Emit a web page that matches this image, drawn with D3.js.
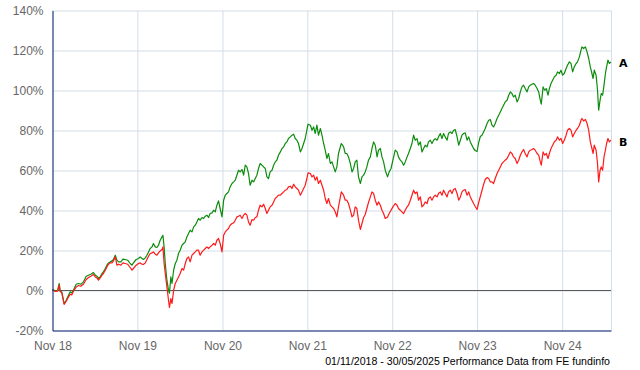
<!DOCTYPE html>
<html>
<head>
<meta charset="utf-8">
<script src="https://cdn.jsdelivr.net/npm/d3@7"></script>
<style>
    body { margin: 0; background: #fff; }
    .axis-label { font-family: "Liberation Sans", Arial, sans-serif; font-size: 12px; fill: #666; }
    .series-label { font-family: "DejaVu Sans", Verdana, sans-serif; font-size: 11px; font-weight: bold; fill: #000; }
    .footer { font-family: "Liberation Sans", Arial, sans-serif; font-size: 10.6px; fill: #000; }
</style>
</head>
<body>
<div id="chart"></div>
<script>

// data: days since 01/11/2018, cumulative % growth
var startDate = new Date(2018, 10, 1);
var endDate = new Date(2025, 4, 30);

var dayOffsets = [0, 2, 12, 22, 29, 33, 40, 50, 59, 69, 76, 83, 90, 102, 112, 122, 133, 145, 155, 165,
    176, 184, 191, 198, 205, 213, 219, 227, 234, 241, 248, 256, 262, 270, 277, 284, 294, 303, 313, 323,
    334, 342, 348, 360, 370, 377, 385, 391, 399, 406, 413, 420, 428, 434, 442, 449, 456, 463, 471,
    475, 480, 485, 492, 499, 503, 509, 514, 521, 528, 535, 542, 549, 557, 564, 571, 578, 585, 592, 600,
    607, 614, 621, 628, 635, 643, 650, 657, 664, 671, 678, 686, 693, 700, 707, 714, 721, 729, 736, 743,
    750, 757, 764, 772, 779, 786, 793, 800, 807, 815, 822, 829, 836, 843, 850, 858, 865, 872, 879, 886,
    893, 901, 908,
    915, 922, 929, 936, 944, 951, 958, 965, 972, 980, 987, 994, 1001, 1008, 1015, 1023, 1030, 1037, 1044,
    1051, 1058, 1066, 1073, 1080, 1087, 1094, 1099, 1109, 1116, 1123, 1130, 1137, 1144, 1152, 1159, 1166,
    1173, 1180, 1187, 1195, 1202, 1209, 1216, 1223, 1230, 1242, 1252, 1259, 1266, 1273, 1281, 1288, 1295,
    1302, 1309, 1316, 1324, 1331, 1338, 1345, 1352, 1359,
    1367, 1374, 1381, 1388, 1396, 1402, 1410, 1417, 1424, 1431, 1441, 1448, 1456, 1464, 1474, 1482, 1488,
    1496, 1503, 1510, 1517, 1525, 1531, 1539, 1546, 1553, 1560, 1568, 1574, 1582, 1589, 1596, 1603, 1611,
    1617, 1625, 1632, 1639, 1646, 1654, 1660, 1668, 1675, 1682, 1689, 1697, 1703, 1711, 1718, 1725, 1732,
    1740, 1747, 1754, 1761, 1768, 1775, 1783, 1790, 1797, 1804, 1811,
    1818, 1826, 1833, 1840, 1847, 1854, 1861, 1869, 1876, 1883, 1890, 1897, 1904, 1912, 1919, 1926, 1933,
    1940, 1947, 1955, 1962, 1969, 1976, 1983, 1990, 1998, 2005, 2012, 2019, 2026, 2033, 2041, 2048, 2055,
    2062, 2069, 2076, 2084, 2091, 2098, 2102, 2110, 2117, 2124, 2131, 2137, 2144, 2151, 2158, 2166, 2172,
    2180, 2187, 2194, 2201, 2209, 2215, 2223, 2230, 2237, 2244, 2252, 2258, 2266, 2273, 2277, 2284, 2292,
    2299, 2306, 2313, 2320, 2325, 2330, 2338, 2344, 2349, 2355, 2360, 2366, 2372, 2378, 2383, 2389, 2395, 2401];

var seriesA = [0, 0.5, -0.2, 0.15, 3.5, -0.2, -0.7, -6.5, -4.85, -2.35, -0.65, -1.2, 0.15, 3.15, 3.5, 3.15, 4.3, 7.15, 7.65, 8.15,
    9, 7.65, 7.15, 6, 6.8, 8.5, 9.3, 11, 12.65, 13.8, 14.3, 14.8, 15.5, 17.65, 15.15, 14.3, 14.3, 15.65, 15.5, 15.15,
    13.5, 12.65, 13.8, 15.5, 16, 16.8, 16, 15.5, 16.3, 17.65, 19.3, 21, 21.8, 23.5, 21.8, 21.5, 22.65, 25.15, 26.8,
    27.6, 21.8, 13.5, 5.15, 0.15, -1.35, 6.8, 3.5, 10.15, 13.5, 15.15, 18.5, 20.15, 22.65, 23.5, 24.3, 26.8, 28.5, 30.15, 29.3,
    31.8, 32.65, 34.3, 36, 35.15, 36.5, 36, 37.15, 37.65, 36.5, 38.5, 38.8, 40.15, 39.3, 42.65, 44.8, 41, 36.8, 45.15, 47.65,
    48.5, 49.3, 51.8, 53.5, 54.3, 55.15, 57.65, 60.15, 59.3, 60.5, 57.65, 62.65, 61.8, 58.5, 52.65, 55.15, 54.3, 56, 57.65, 61,
    63.5, 62.65, 61.8,
    61, 56.8, 56, 59.3, 60.15, 62.65, 64.3, 65.15, 67.65, 69.3, 71, 71.8, 73.5, 74.3, 76, 76.8, 77.65, 78.15, 76,
    75.15, 73.5, 69.3, 71, 73.5, 76, 80.15, 83.15, 82.65, 80.15, 81.8, 78.5, 82.65, 77.65, 81, 77.65, 73.5,
    70.15, 66, 68.5, 63.5, 64.3, 61.8, 59.3, 61.8, 68.5, 73.5, 71.8, 68.5, 68.5, 66.8, 63.5, 59.3, 61,
    64.3, 65.15, 56.8, 53.5, 56.8, 57.65, 59.3, 61.8, 65.15,
    66.8, 71, 74.3, 72.65, 66.8, 70.15, 71, 66.8, 64.3, 60.15, 56.8, 59.3, 61, 65.15, 70.15, 69.3, 66.8,
    65.15, 64.3, 62.65, 64.3, 66.8, 68.5, 71, 73.5, 77.65, 75.15, 75.95, 72.65, 74.3, 69.3, 71, 72.65, 71.8,
    74.3, 75.15, 73.5, 75.15, 75.95, 75.15, 76.8, 78.5, 75.95, 78.5, 76.8, 75.15, 78.5, 79.3, 78.5, 80.15, 80.5,
    76.8, 72.65, 75.15, 77.65, 78.5, 78.8, 75.15, 76.8, 74.3, 72.65, 71,
    70, 69.5, 74, 77, 77.65, 79.3, 81, 83.5, 85.15, 85.5, 82.65, 81.8, 83.5, 86, 87.65, 89.3, 91,
    92.65, 94.3, 95.15, 97.65, 99.3, 98.5, 96.8, 97.65, 94.3, 96, 99.3, 101.8, 102.65, 101, 99.3, 101.8, 102.65,
    103.15, 103.5, 102.65, 101, 99.3, 95.15, 93.15, 101.8, 100.15, 100.95, 97.65, 100.95, 103.5, 105.15, 106.8, 107.65, 109.3,
    108.5, 110.15, 107.65, 108.5, 111, 112.65, 114.3, 113.5, 109.3, 111.8, 113.5, 114.3, 116.8, 120.15, 121.8, 121, 121.8,
    119.3, 116, 111.8, 108.5, 106, 110.15, 107.65, 100.15, 90.15, 95.15, 98.5, 97.65, 102.65, 108.5, 111.8, 115.15, 113.5, 114.3];

var seriesB = [0, 0.15, -0.5, -0.35, 2.65, -0.5, -1.2, -7, -5.35, -3.2, -1.85, -2.2, -0.35, 1.8, 2.5, 2.15, 3.15, 5.5, 6.5, 7.15,
    8, 6.8, 6.3, 5.15, 6.3, 7.65, 8.5, 10.15, 11.8, 13.15, 13.8, 13.8, 14.8, 16.8, 12.65, 13.15, 12.65, 13.8, 13.5, 13.15,
    11.5, 10.15, 11, 12.65, 13.5, 13.8, 13.15, 13, 13.8, 15.5, 17.15, 18.5, 18.8, 19.3, 18.15, 17.65, 18.8, 19.8, 20.5,
    21.8, 13.5, 8.5, 1.8, -4.85, -8.5, -4, -6.5, 0.15, 3.5, 5.15, 6.8, 8.5, 11, 10.15, 13.5, 16, 16.8, 14.3, 17.65,
    18.5, 19.3, 20.15, 20.15, 17.65, 19.3, 20.15, 21, 21.8, 21, 21.8, 22.65, 23.5, 22.65, 25.15, 26, 23.5, 19.3, 27.65, 29.3,
    30.15, 31, 32.65, 33.5, 33.8, 35.15, 36.8, 37.15, 37.65, 36, 37.65, 38.5, 37.65, 34.3, 32.65, 35.5, 35.15, 36.5, 36.8, 40.15,
    42.65, 41.8, 43.15,
    41, 38.5, 40.15, 41.8, 42.65, 44.3, 46, 46.8, 47.65, 47.65, 48.5, 49.3, 50.15, 50.5, 51.8, 52.15, 51, 53.15, 51.8,
    51, 50.15, 47.65, 49.3, 51, 52.65, 56, 58.8, 58.5, 56.8, 57.65, 55.15, 56.8, 53.5, 55.15, 52.65, 50.15,
    46, 43.5, 46, 42.65, 41.8, 41, 39.3, 36.8, 41.8, 49.3, 47.65, 45.15, 45.15, 43.5, 40.15, 36.8, 37.65,
    41.8, 41, 35.15, 30.5, 33.5, 36.5, 38, 41, 44,
    46.8, 49.3, 48.5, 45.15, 42.65, 44.3, 42.65, 40.15, 38.5, 36, 36.8, 38.5, 40.15, 41.8, 43.5, 42.65, 41,
    40.15, 39.3, 38.5, 40.15, 41.8, 42.65, 45.15, 47.65, 50.15, 48.5, 49.3, 45.15, 46.8, 41.8, 42.65, 44.3, 43.5,
    46, 46.8, 45.15, 46.8, 47.65, 46.8, 48.5, 49.3, 47.65, 50.15, 48.5, 46.8, 49.3, 50.15, 48.5, 50.5, 51,
    48.5, 45.15, 46.8, 49.3, 50.15, 50.5, 47.65, 49.3, 46.8, 45.15, 43.5,
    42, 40.5, 44, 47, 50, 53, 55.5, 56.5, 56, 54.3, 54.3, 53.5, 56, 58.5, 60.15, 61.8, 63.5,
    64.3, 65.15, 66, 67.65, 69.3, 68.5, 66.8, 66, 63.5, 65.15, 67.65, 69.3, 70.5, 68.5, 66.8, 69.3, 70.15,
    70.5, 71, 70.15, 68.5, 67.65, 64.3, 62.65, 69.3, 67.65, 68.5, 66, 68.5, 71, 72.65, 74.3, 75.15, 76.8,
    75.15, 76, 73.5, 75.15, 77.65, 80.15, 81, 80.15, 76.8, 78.5, 80.15, 81, 82.65, 85.15, 86, 84.8, 85.5,
    83.5, 80.15, 74.3, 71, 68.5, 72.65, 70.15, 63.5, 54.3, 60.15, 61.8, 60.15, 66.8, 70.15, 73.5, 76, 74.3, 75.15];

var seriesNames = ["A", "B"];
var seriesColors = ["#0c8c0c", "#ff1a1a"];
var yTicks = [-20, 0, 20, 40, 60, 80, 100, 120, 140];
var xTickLabels = ["Nov 18", "Nov 19", "Nov 20", "Nov 21", "Nov 22", "Nov 23", "Nov 24"];
var footerText = "01/11/2018 - 30/05/2025 Performance Data from FE fundinfo";


LineChart = function(_parentElement) {
    this.parentElement = _parentElement;
    this.initVis();
};

LineChart.prototype.initVis = function() {
    var vis = this;

    vis.margin = {top: 10.5, right: 29, bottom: 39.5, left: 52.5};
    vis.width = 640 - vis.margin.left - vis.margin.right;
    vis.height = 370 - vis.margin.top - vis.margin.bottom;

    vis.x = d3.scaleTime()
        .domain([startDate, endDate])
        .range([0, vis.width]);

    vis.y = d3.scaleLinear()
        .domain([-20, 140])
        .range([vis.height, 0]);

    vis.svg = d3.select(vis.parentElement)
        .append("svg")
        .attr("width", 640)
        .attr("height", 370);

    vis.chart = vis.svg.append("g")
        .attr("transform", "translate(" + vis.margin.left + "," + vis.margin.top + ")");

    vis.wrangleData();
};

LineChart.prototype.wrangleData = function() {
    var vis = this;

    vis.dates = dayOffsets.map(function(d) { return d3.timeDay.offset(startDate, d); });
    vis.series = [seriesA, seriesB].map(function(values, i) {
        return {
            name: seriesNames[i],
            color: seriesColors[i],
            values: values.map(function(v, j) { return {date: vis.dates[j], value: v}; })
        };
    });
    vis.tickDates = xTickLabels.map(function(t, i) { return new Date(2018 + i, 10, 1); });

    vis.updateVis();
};

LineChart.prototype.updateVis = function() {
    var vis = this;

    // grid lines
    vis.chart.append("g")
        .attr("class", "grid")
        .call(d3.axisLeft(vis.y).tickValues(yTicks).tickSize(-vis.width).tickFormat(""))
        .call(function(g) {
            g.select(".domain").remove();
            g.selectAll("line").attr("stroke", "#d3dee8");
        });

    vis.chart.append("g")
        .attr("class", "grid")
        .attr("transform", "translate(0," + vis.height + ")")
        .call(d3.axisBottom(vis.x).tickValues(vis.tickDates.concat([endDate])).tickSize(-vis.height).tickFormat(""))
        .call(function(g) {
            g.select(".domain").remove();
            g.selectAll("line").attr("stroke", "#d3dee8");
        });

    // zero line
    vis.chart.append("line")
        .attr("x1", 0)
        .attr("x2", vis.width)
        .attr("y1", vis.y(0))
        .attr("y2", vis.y(0))
        .attr("stroke", "#5a5a5a")
        .attr("stroke-width", 1);

    // series
    vis.line = d3.line()
        .x(function(d) { return vis.x(d.date); })
        .y(function(d) { return vis.y(d.value); });

    vis.chart.selectAll(".series")
        .data(vis.series)
        .enter().append("path")
        .attr("class", "series")
        .attr("fill", "none")
        .attr("stroke", function(d) { return d.color; })
        .attr("stroke-width", 1.2)
        .attr("stroke-linejoin", "round")
        .attr("d", function(d) { return vis.line(d.values); });

    // axes
    vis.chart.append("g")
        .attr("class", "axis")
        .call(d3.axisLeft(vis.y).tickValues(yTicks).tickSize(0).tickPadding(9)
            .tickFormat(function(d) { return d + "%"; }))
        .call(function(g) {
            g.select(".domain").attr("stroke", "#0b2375");
            g.selectAll("text").attr("class", "axis-label").attr("font-family", null).attr("font-size", null).attr("fill", null);
        });

    vis.chart.append("g")
        .attr("class", "axis")
        .attr("transform", "translate(0," + vis.height + ")")
        .call(d3.axisBottom(vis.x).tickValues(vis.tickDates).tickSize(0).tickPadding(11)
            .tickFormat(function(d, i) { return xTickLabels[i]; }))
        .call(function(g) {
            g.select(".domain").attr("stroke", "#0b2375");
            g.selectAll("text").attr("class", "axis-label").attr("font-family", null).attr("font-size", null).attr("fill", null);
        });

    // series labels at the end of each line
    vis.chart.selectAll(".series-label")
        .data(vis.series)
        .enter().append("text")
        .attr("class", "series-label")
        .attr("x", vis.width + 8)
        .attr("y", function(d) { return vis.y(d.values[d.values.length - 1].value) + 5.5; })
        .text(function(d) { return d.name; });

    vis.svg.append("text")
        .attr("class", "footer")
        .attr("x", 610)
        .attr("y", 365)
        .style("text-anchor", "end")
        .text(footerText);
};

new LineChart("#chart");
</script>
</body>
</html>
